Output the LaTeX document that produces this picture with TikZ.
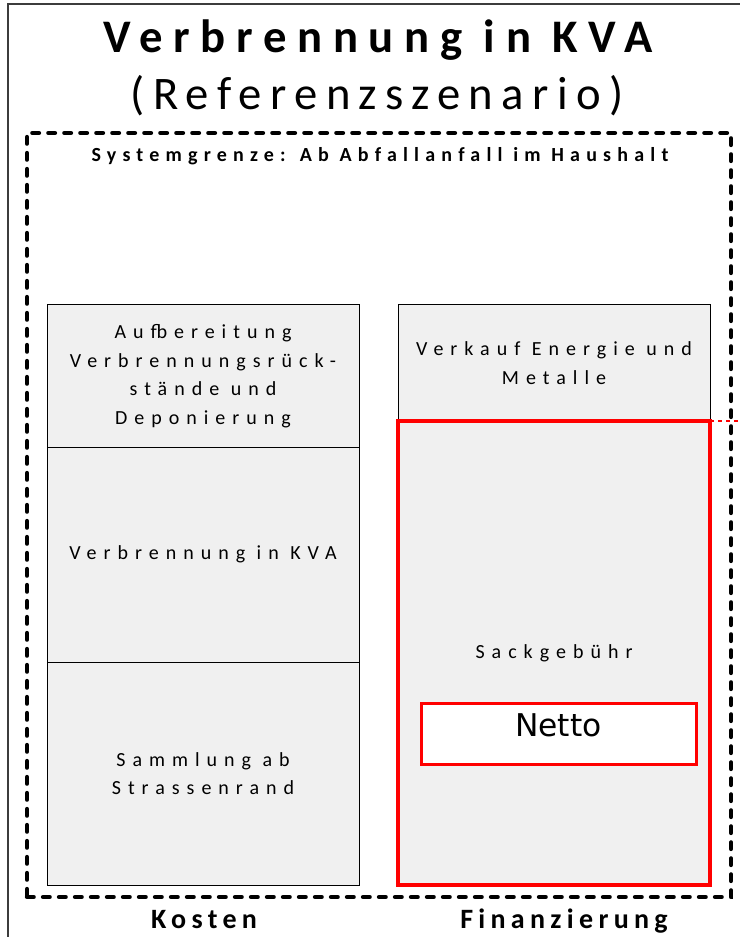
\documentclass[tikz,border=0pt]{standalone}
\usepackage{fontspec}
\setmainfont{Carlito}
\newfontfamily\titlefont[LetterSpace=23]{Carlito}
\newfontfamily\subtitlefont[LetterSpace=18]{Carlito}
\newfontfamily\boxfont[LetterSpace=35]{Carlito}
\newfontfamily\notefont[LetterSpace=31]{Carlito}
\newfontfamily\colfont[LetterSpace=19]{Carlito}
\newfontfamily\nettofont{DejaVu Sans}
\definecolor{panelgray}{RGB}{240,240,240}
\definecolor{framegray}{RGB}{60,60,60}
\begin{document}
\begin{tikzpicture}[x=0.75pt,y=-0.75pt,
  panel/.style={draw=black, line width=0.75pt, fill=panelgray, inner sep=0pt,
    outer sep=0pt, minimum width=234pt, align=center,
    font=\boxfont\fontsize{15}{21.4}\selectfont},
  redpanel/.style={panel, draw=red, line width=3pt},
  boundary/.style={draw=black, line width=3.2pt, dash pattern=on 5pt off 7pt,
    line cap=round, inner sep=0pt, minimum width=528pt, minimum height=573pt},
  colhead/.style={anchor=base, font=\colfont\bfseries\fontsize{21}{25}\selectfont},
]
\useasboundingbox (0,0) rectangle (740,937);
\fill[white] (0,0) rectangle (740,937);
% page frame
\draw[framegray, line width=1.3pt] (8,937) -- (8,4) -- (740,4);

% headings
\node[anchor=base, font=\titlefont\bfseries\fontsize{35}{40}\selectfont] (title) at (378,53) {Verbrennung in KVA};
\node[anchor=base, font=\subtitlefont\fontsize{35}{40}\selectfont] (subtitle) at (377,110) {(Referenzszenario)};

% system boundary
\node[boundary] (boundary) at (379,515) {};
\node[anchor=base, font=\notefont\bfseries\fontsize{15}{18}\selectfont] (sysnote) at (380,162) {Systemgrenze: Ab Abfallanfall im Haushalt};

% cost column
\node[panel, minimum height=106.5pt] (aufb) at (203,376) {Aufbereitung\\Verbrennungsrück-\\stände und\\Deponierung};
\node[panel, minimum height=161.25pt] (verbr) at (203,554.5) {Verbrennung in KVA};
\node[panel, minimum height=167.25pt] (samml) at (203,773.5) {Sammlung ab\\Strassenrand};

% financing column
\node[panel, minimum height=87pt] (verkauf) at (554,363) {Verkauf Energie und\\Metalle};
\node[redpanel, minimum height=348pt] (sack) at (554,653) {Sackgebühr};
\coordinate (rightedge) at (740,421);
\draw[red, line width=1pt, dashed] (sack.north west) -- (rightedge);
\node[draw=red, line width=2.25pt, fill=white, inner sep=0pt, minimum width=206.25pt,
  text height=24.75pt, text depth=21pt, font=\nettofont\fontsize{23.5}{28}\selectfont]
  (netto) at (558.5,733.5) {Netto};

% column labels
\node[colhead] (kosten) at (204,928) {Kosten};
\node[colhead] (finanz) at (564,928) {Finanzierung};
\end{tikzpicture}
\end{document}
